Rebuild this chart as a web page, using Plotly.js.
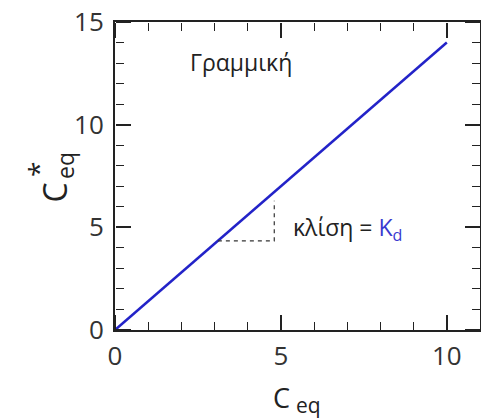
<!DOCTYPE html>
<html>
<head>
<meta charset="utf-8">
<script src="https://cdn.plot.ly/plotly-3.0.1.min.js"></script>
<style>
  html, body { margin: 0; padding: 0; background: #fff; }
  #chart { width: 481px; height: 418px; }
</style>
</head>
<body>
<div id="chart"></div>
<script>
// Linear isotherm: C*_eq = Kd * C_eq
const ceq = [0, 10];
const ceqStar = [0, 14];

// Slope triangle (dashed guide)
const triX = [3.1, 4.8, 4.8];
const triY = [4.34, 4.34, 6.3];

const xRange = [0, 11];
const yRange = [0, 15];
const majorStep = 5;
const minorStep = 1;

const FONT = 'Open Sans, DejaVu Sans, sans-serif';
const INK = '#222';

// Hidden carrier traces give the tick-only overlay axes a subplot
function carrier(xa, ya) {
  return { x: ceq, y: ceqStar, xaxis: xa, yaxis: ya, mode: 'lines',
           line: { color: 'rgba(0,0,0,0)', width: 0 }, hoverinfo: 'skip', showlegend: false };
}

const traces = [
  carrier('x2', 'y2'),
  carrier('x3', 'y3'),
  {
    x: ceq, y: ceqStar, mode: 'lines',
    line: { color: '#2323c8', width: 2.5 },
    hoverinfo: 'skip', showlegend: false, cliponaxis: false
  },
  {
    x: triX, y: triY, mode: 'lines',
    line: { color: '#333', width: 1.2, dash: '4px,4px' },
    hoverinfo: 'skip', showlegend: false
  }
];

// Main axes: frame line + labels only
function mainAxis(range) {
  return {
    range: range,
    showgrid: false, zeroline: false,
    showline: true, linecolor: INK, linewidth: 2, mirror: true,
    tickmode: 'linear', tick0: 0, dtick: majorStep, ticks: '',
    tickfont: { family: FONT, size: 26, color: '#333' }
  };
}

// Tick-only axes pinned to an edge of the frame; their outside ticks point into the plot
function tickAxis(range, over, side, pos) {
  return {
    range: range, overlaying: over, anchor: 'free', position: pos, side: side,
    showgrid: false, zeroline: false, showline: false, showticklabels: false,
    tickmode: 'linear', tick0: 0, dtick: majorStep,
    ticks: 'outside', ticklen: 15, tickwidth: 1.5, tickcolor: INK,
    minor: { ticks: 'outside', ticklen: 8, tickwidth: 1.3, tickcolor: INK, tick0: 0, dtick: minorStep, showgrid: false }
  };
}

const layout = {
  width: 481, height: 418,
  margin: { l: 115, r: 1, t: 22, b: 88 },
  paper_bgcolor: '#fff', plot_bgcolor: '#fff',
  xaxis: Object.assign(mainAxis(xRange), { ticklabelstandoff: 2 }),
  yaxis: Object.assign(mainAxis(yRange), { ticklabelstandoff: 4 }),
  xaxis2: tickAxis(xRange, 'x', 'top', 0),
  yaxis2: tickAxis(yRange, 'y', 'right', 0),
  xaxis3: tickAxis(xRange, 'x', 'bottom', 1),
  yaxis3: tickAxis(yRange, 'y', 'left', 1),
  showlegend: false,
  annotations: [
    {
      text: 'Γραμμική', x: 3.8, y: 13.05, xref: 'x', yref: 'y',
      showarrow: false, font: { family: FONT, size: 23, color: INK }
    },
    {
      text: 'κλίση = <span style="color:#3a3ad0">K<sub>d</sub></span>',
      x: 5.3, y: 4.95, xref: 'x', yref: 'y', xanchor: 'left',
      showarrow: false, font: { family: FONT, size: 23, color: INK }
    },
    // x-axis title: C with subscript eq
    {
      text: 'C', x: (281 - 115) / 365, y: -(377 - 330) / 308, yanchor: 'top',
      xref: 'paper', yref: 'paper', showarrow: false,
      font: { family: FONT, size: 27, color: INK }
    },
    {
      text: 'eq', x: (308 - 115) / 365, y: -(389 - 330) / 308, yanchor: 'top',
      xref: 'paper', yref: 'paper', showarrow: false,
      font: { family: FONT, size: 21, color: INK }
    },
    // y-axis title: C* with subscript eq
    {
      text: 'C', x: -(115 - 30) / 365, y: (330 - 193) / 308,
      xref: 'paper', yref: 'paper', showarrow: false, textangle: -90,
      font: { family: FONT, size: 32, color: INK }
    },
    {
      text: 'eq', x: -(115 - 47) / 365, y: (330 - 166) / 308,
      xref: 'paper', yref: 'paper', showarrow: false, textangle: -90,
      font: { family: FONT, size: 23, color: INK }
    },
    {
      text: '*', x: -(115 - 17) / 365, y: (330 - 170) / 308,
      xref: 'paper', yref: 'paper', showarrow: false, textangle: -90,
      font: { family: FONT, size: 28, color: INK }
    }
  ]
};

Plotly.newPlot('chart', traces, layout, { displayModeBar: false });
</script>
</body>
</html>
